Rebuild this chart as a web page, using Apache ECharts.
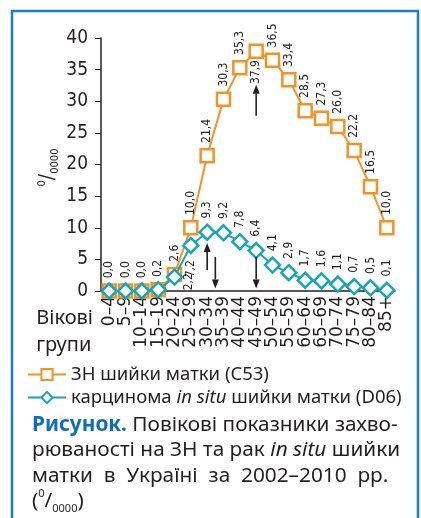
<!DOCTYPE html>
<html>
<head>
<meta charset="utf-8">
<title>Повікові показники захворюваності</title>
<style>
	* { margin: 0; padding: 0; }
	html, body { width: 100%; height: 100%; background: #fff; }
	#box { width: 421px; height: 518px; }
</style>
</head>
<body>
<div id="box"></div>
<script src="https://cdn.jsdelivr.net/npm/echarts@6/dist/echarts.min.js"></script>
<script>
	// вікові групи
	var groups = ['0–4', '5–9', '10–14', '15–19', '20–24', '25–29', '30–34', '35–39', '40–44',
		'45–49', '50–54', '55–59', '60–64', '65–69', '70–74', '75–79', '80–84', '85+'];
	// ЗН шийки матки (C53)
	var c53 = [0.0, 0.0, 0.0, 0.2, 2.6, 10.0, 21.4, 30.3, 35.3, 37.9, 36.5, 33.4, 28.5, 27.3, 26.0, 22.2, 16.5, 10.0];
	// карцинома in situ (D06)
	var d06 = [0.0, 0.0, 0.0, 0.2, 2.2, 7.2, 9.3, 9.2, 7.8, 6.4, 4.1, 2.9, 1.7, 1.6, 1.1, 0.7, 0.5, 0.1];
	var yMin = 0, yMax = 40, yStep = 5;
	// стрілки: [група (індекс), від, до]
	var arrows = [[6, 3.3, 7.6], [6.5, 5.4, 0.4], [9, 5.4, 0.4], [9, 27.7, 32.6]];

	var ink = '#231f20';
	var orange = '#f39323';
	var teal = '#17a6b6';
	var condensed = '"DejaVu Sans Condensed", "DejaVu Sans", sans-serif';
	var dejavu = '"DejaVu Sans", sans-serif';
	var sans = '"Noto Sans", "Liberation Sans", sans-serif';

	function fmt(v) {
		return v.toFixed(1).replace('.', ',');
	}

	var upLabel = { show: true, position: 'top', rotate: 90, align: 'left', verticalAlign: 'middle', distance: 5 };

	var c53data = c53.map(function (v, i) {
		var d = { value: v };
		if (i == 9) {
			d.label = { position: 'bottom', align: 'right', distance: 1 };
		}
		return d;
	});
	var d06data = d06.map(function (v, i) {
		var d = { value: v };
		if (i < 4) {
			d.label = { show: false };
		} else if (i == 5) {
			d.label = { position: 'bottom', align: 'right', distance: 6 };
		} else if (i == 4) {
			d.label = { position: [23, 22], align: 'left' };
		}
		return d;
	});

	var myChart = echarts.init(document.getElementById('box'));
	var option = {
		animation: false,
		grid: { left: 101, right: 26, top: 38, bottom: 227 },
		xAxis: {
			type: 'category',
			data: groups,
			axisLine: { lineStyle: { color: ink, width: 1.5 } },
			axisTick: { length: 5, lineStyle: { color: ink } },
			axisLabel: {
				interval: 0, rotate: 90, margin: 5,
				color: ink, fontSize: 17, fontFamily: dejavu
			}
		},
		yAxis: {
			type: 'value',
			min: yMin, max: yMax, interval: yStep,
			splitLine: { show: false },
			axisLine: { show: true, lineStyle: { color: ink, width: 1.5 } },
			axisTick: { show: true, length: 6, lineStyle: { color: ink } },
			axisLabel: { margin: 13, color: ink, fontSize: 19, fontFamily: condensed }
		},
		legend: {
			orient: 'vertical',
			left: 22,
			top: 360,
			itemWidth: 38,
			itemHeight: 14,
			itemGap: 4,
			textStyle: {
				color: ink, fontSize: 18.5, fontFamily: sans,
				rich: {
					n: { color: ink, fontSize: 18.5, fontFamily: sans },
					i: { color: ink, fontSize: 18.5, fontFamily: sans, fontStyle: 'italic' }
				}
			},
			formatter: function (name) {
				if (name.indexOf('in situ') >= 0) {
					return '{n|карцинома }{i|in situ}{n| шийки матки (D06)}';
				}
				return name;
			},
			data: ['ЗН шийки матки (C53)', 'карцинома in situ шийки матки (D06)']
		},
		series: [{
			name: 'ЗН шийки матки (C53)',
			type: 'line',
			data: c53data,
			symbol: 'rect',
			symbolSize: 13,
			color: orange,
			lineStyle: { color: orange, width: 2 },
			itemStyle: { color: '#fff', borderColor: orange, borderWidth: 2.5 },
			label: Object.assign({}, upLabel, {
				color: ink, fontSize: 12, fontFamily: condensed,
				formatter: function (p) { return fmt(p.value); }
			}),
			z: 2
		}, {
			name: 'карцинома in situ шийки матки (D06)',
			type: 'line',
			data: d06data,
			symbol: 'diamond',
			symbolSize: 15,
			color: teal,
			lineStyle: { color: teal, width: 2 },
			itemStyle: { color: '#fff', borderColor: teal, borderWidth: 2.5 },
			label: Object.assign({}, upLabel, {
				color: ink, fontSize: 12, fontFamily: condensed,
				formatter: function (p) { return fmt(p.value); }
			}),
			z: 3
		}]
	};
	myChart.setOption(option);

	// стрілки, рамка, підписи
	function px(i, v) {
		var a = Math.floor(i), b = Math.ceil(i);
		var pa = myChart.convertToPixel({ xAxisIndex: 0, yAxisIndex: 0 }, [a, v]);
		var pb = myChart.convertToPixel({ xAxisIndex: 0, yAxisIndex: 0 }, [b, v]);
		return [pa[0] + (pb[0] - pa[0]) * (i - a), pa[1]];
	}

	var graphics = [];
	arrows.forEach(function (a) {
		var p1 = px(a[0], a[1]);
		var p2 = px(a[0], a[2]);
		var dir = p2[1] > p1[1] ? 1 : -1;
		var head = 9;
		graphics.push({
			type: 'line', silent: true, z: 10,
			shape: { x1: p1[0], y1: p1[1], x2: p2[0], y2: p2[1] - dir * head },
			style: { stroke: ink, lineWidth: 1.6 }
		});
		graphics.push({
			type: 'polygon', silent: true, z: 10,
			shape: { points: [[p2[0] - 3.5, p2[1] - dir * head], [p2[0] + 3.5, p2[1] - dir * head], [p2[0], p2[1]]] },
			style: { fill: ink }
		});
	});

	// назва осі Y (⁰/₀₀₀₀)
	var mid = px(0, (yMin + yMax) / 2);
	graphics.push({
		type: 'text', x: 49, y: mid[1] + 3, rotation: Math.PI / 2,
		style: {
			text: '{sup|0}{sl|/}{sub|0000}', align: 'center', verticalAlign: 'middle', fill: ink,
			rich: {
				sup: { fontSize: 11, fontFamily: condensed, fill: ink, verticalAlign: 'top', lineHeight: 24 },
				sl: { fontSize: 21, fontFamily: condensed, fill: ink, lineHeight: 24 },
				sub: { fontSize: 11, fontFamily: condensed, fill: ink, verticalAlign: 'bottom', lineHeight: 24 }
			}
		}
	});

	graphics.push({
		type: 'rect', silent: true, z: 0,
		shape: { x: 12, y: 11, width: 406, height: 530 },
		style: { fill: 'none', stroke: '#1c7cc6', lineWidth: 2.5 }
	});
	graphics.push({
		type: 'text', left: null, right: 328, top: 305,
		style: {
			text: 'Вікові\nгрупи', align: 'right', fill: ink,
			font: '20px ' + sans, lineHeight: 27
		}
	});
	graphics.push({
		type: 'text', left: 32, top: 412,
		style: {
			text: '{b|Рисунок.} Повікові показники захво-\nрюваності на ЗН та рак {i|in situ} шийки\nматки  в  Україні  за  2002–2010  рр.\n({s|0}/{u|0000})',
			fill: ink, font: '20.8px ' + sans, lineHeight: 25.5,
			rich: {
				b: { fill: '#0b6fb9', fontWeight: 'bold', fontSize: 20.8, fontFamily: sans, lineHeight: 25.5 },
				i: { fill: ink, fontStyle: 'italic', fontSize: 20.8, fontFamily: sans, lineHeight: 25.5 },
				s: { fill: ink, fontSize: 11, fontFamily: sans, verticalAlign: 'top', lineHeight: 25.5 },
				u: { fill: ink, fontSize: 11, fontFamily: sans, verticalAlign: 'bottom', lineHeight: 25.5 }
			}
		}
	});
	myChart.setOption({ graphic: graphics });
</script>
</body>
</html>
